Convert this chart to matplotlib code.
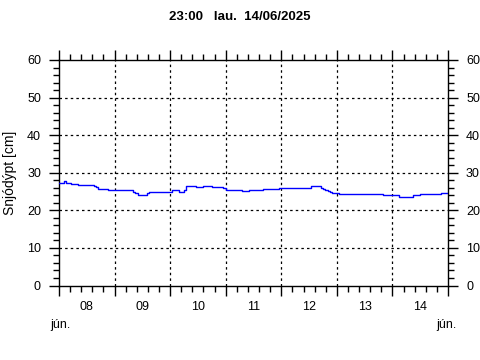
import matplotlib
matplotlib.use("Agg")
import matplotlib.pyplot as plt
import numpy as np
from matplotlib.ticker import MultipleLocator
import matplotlib.transforms as mtransforms

plt.rcParams['font.family'] = ['Liberation Sans', 'DejaVu Sans']

# hours since 08/06 00:00 and snow depth (cm), step breakpoints
hours = [0, 2, 3, 5, 8, 15, 16, 17, 21, 30, 32, 33, 34, 38, 39, 49, 52, 54, 55, 59,
         62, 66, 71, 72, 79, 82, 88, 95, 109, 113, 114, 115, 116, 117, 118, 119, 121,
         140, 141, 147, 153, 156, 165, 168]
depth = [27.3, 27.7, 27.3, 27.1, 26.8, 26.5, 26.2, 25.8, 25.5, 25.3, 25.0, 24.6, 24.2, 24.5,
         25.0, 25.3, 25.0, 25.5, 26.4, 26.2, 26.4, 26.2, 25.9, 25.5, 25.2, 25.5, 25.7,
         26.0, 26.4, 26.0, 25.7, 25.4, 25.1, 24.9, 24.7, 24.5, 24.3, 24.2, 24.0, 23.6,
         24.0, 24.3, 24.5, 24.5]
day_labels = ['08', '09', '10', '11', '12', '13', '14']
month_label = 'jún.'
title = '23:00   lau.  14/06/2025'
ylabel = 'Snjódýpt [cm]'

fig = plt.figure(figsize=(4.8, 3.6), dpi=100)
ax = fig.add_axes([59/480, 1-285.5/360, (448-59)/480, (285.5-60)/360])

ax.plot(hours, depth, color='#0000ff', linewidth=1.0, drawstyle='steps-post', zorder=3)

ax.set_xlim(0, 168)
ax.set_ylim(0, 60)

ax.xaxis.set_major_locator(MultipleLocator(24))
ax.xaxis.set_minor_locator(MultipleLocator(4.8))
ax.yaxis.set_major_locator(MultipleLocator(10))
ax.yaxis.set_minor_locator(MultipleLocator(2))

ax.tick_params(axis='both', which='major', direction='out', length=7, width=1, color='black',
               labelsize=9, top=True, right=True, labelright=True, labelbottom=False)
ax.tick_params(axis='both', which='minor', direction='out', length=4, width=1, color='black',
               top=True, right=True)
ax.tick_params(axis='y', which='major', pad=6)

for s in ax.spines.values():
    s.set_linewidth(1.0)
    s.set_color('black')

# grid
for y in range(10, 60, 10):
    ax.axhline(y, color='black', linewidth=0.9, linestyle=(0, (2, 2.5)), zorder=1)
for x in range(24, 168, 24):
    ax.axvline(x, color='black', linewidth=0.9, linestyle=(0, (2, 2.5)), zorder=1)

trans = mtransforms.blended_transform_factory(ax.transData, fig.transFigure)
for i, d in enumerate(day_labels):
    ax.text(i*24 + 12, 1 - 307/360, d, transform=trans, ha='center', va='center', fontsize=9)
ax.text(0.6, 1 - 325/360, month_label, transform=trans, ha='center', va='center', fontsize=9)
ax.text(167.2, 1 - 325/360, month_label, transform=trans, ha='center', va='center', fontsize=9)

fig.text(0.5, 1 - 17/360, title, ha='center', va='center', fontsize=9.5, fontweight='bold')
fig.text(10/480, 1 - 173/360, ylabel, ha='center', va='center', rotation=90, fontsize=10)

fig.savefig('out.png', dpi=100, facecolor='white')
